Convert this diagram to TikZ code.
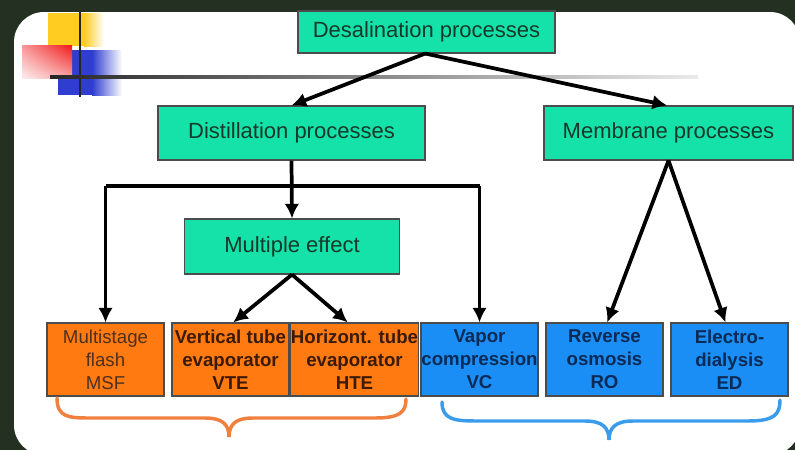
\documentclass[tikz,border=0pt]{standalone}
\usepackage{fontspec}
\setmainfont{Liberation Sans}
\usepackage{tikz}
\usetikzlibrary{arrows.meta}
\usetikzlibrary{calc}
\usetikzlibrary{shadings}
\definecolor{slidebg}{HTML}{243021}
\definecolor{procgreen}{HTML}{14E2A8}
\definecolor{procink}{HTML}{17382A}
\definecolor{procorange}{HTML}{FF7A10}
\definecolor{orangeink}{HTML}{3A1A08}
\definecolor{msfink}{HTML}{4E3020}
\definecolor{procblue}{HTML}{1A8EF5}
\definecolor{blueink}{HTML}{0B2A55}
\definecolor{braceorange}{HTML}{F08040}
\definecolor{braceblue}{HTML}{3A9CEB}
\definecolor{ornyellow}{HTML}{FFCC22}
\definecolor{ornred}{HTML}{F01818}
\definecolor{ornblue}{HTML}{2F3ED0}
\newcommand{\pxu}{0.75pt}
\tikzstyle{line} = [draw, -{Latex[length=11pt,width=11pt]}, line width=2.8pt]
\tikzstyle{brace} = [draw, line width=2.6pt, line cap=round]

\begin{document}
\begin{tikzpicture}[x=0.75pt, y=-0.75pt,
		box/.style={draw=black!70, line width=0.8pt, inner sep=0pt, align=center},
		procbox/.style={box, fill=procgreen, text=procink,
			font=\fontsize{16.5}{20}\selectfont, minimum height=54*\pxu},
		leafbox/.style={box, minimum width=117*\pxu, minimum height=73*\pxu,
			font=\fontsize{14}{17.25}\selectfont\bfseries}]
		\useasboundingbox (0,0) rectangle (795,450);
		%% slide
		\fill[slidebg] (0,0) rectangle (795,450);
		\fill[white, rounded corners=22.5pt] (14,12) rectangle (800,455);
		%% corner ornament
		\fill[ornyellow] (48,13) rectangle (84,46);
		\shade[left color=ornyellow, right color=white] (84,13) rectangle (104,46);
		\fill[ornblue] (58,50) rectangle (92,95);
		\shade[left color=ornblue, right color=white] (92,50) rectangle (122,95);
		\shade[upper right=ornred, upper left=ornred!45, lower right=ornred!40, lower left=ornred!8]
			(22,45) rectangle (72,78);
		\draw[line width=2pt, black!85] (80,12) -- (80,97);
		\shade[left color=black!85, middle color=black!65, right color=black!8]
			(50,75.6) rectangle (698,78.8);
		%% Processes
		\node [procbox, minimum width=257*\pxu, minimum height=42*\pxu] (desal) at (426.5,32) {Desalination processes};
		\node [procbox, minimum width=267*\pxu] (dist) at (291.5,133) {Distillation processes};
		\node [procbox, minimum width=249*\pxu] (memb) at (668.5,133) {Membrane processes};
		\node [procbox, minimum width=215*\pxu, minimum height=55*\pxu] (multi) at (292,246.5) {Multiple effect};
		%% Distillation family
		\node [leafbox, fill=procorange, text=msfink, font=\fontsize{14}{17.25}\selectfont] (msf) at (105.5,359.5) {Multistage\\flash\\MSF};
		\node [leafbox, fill=procorange, text=orangeink] (vte) at (230.5,359.5) {Vertical tube\\evaporator\\VTE};
		\node [leafbox, fill=procorange, text=orangeink] (hte) at (354.5,359.5) {Horizont. tube\\evaporator\\HTE};
		\node [leafbox, fill=procblue, text=blueink] (vc) at (479.5,359.5) {Vapor\\compression\\VC};
		%% Membrane family
		\node [leafbox, fill=procblue, text=blueink] (ro) at (604.5,359.5) {Reverse\\osmosis\\RO};
		\node [leafbox, fill=procblue, text=blueink] (ed) at (729.5,359.5) {Electro-\\dialysis\\ED};
		%% Arrows
		\path [line] ([xshift=-1pt]desal.south) -- (dist.north);
		\path [line] ([xshift=-1pt]desal.south) -- ([xshift=-1pt]memb.north);
		\coordinate (split) at (291.5,186);
		\draw [line width=2.8pt] (msf.north |- split) -- (vc.north |- split);
		\path [line] (dist.south) -- (multi.north);
		\path [line] (msf.north |- split) -- (msf.north);
		\path [line] (vc.north |- split) -- (vc.north);
		\path [line] (multi.south) -- ([xshift=2pt]vte.north);
		\path [line] (multi.south) -- ([xshift=-5pt]hte.north);
		\path [line] (memb.south) -- ([xshift=2pt]ro.north);
		\path [line] (memb.south) -- ([xshift=-3pt]ed.north);
		%% Braces
		\coordinate (otip) at (229,437);
		\coordinate (btip) at (609,440);
		\path [brace, braceorange] (57,398) .. controls (57,417) and (68,418) .. (90,418) -- (205,418)
			.. controls (222,418) and (229,424) .. (otip)
			.. controls (229,424) and (236,418) .. (253,418) -- (375,418)
			.. controls (400,418) and (406,412) .. (406,399);
		\path [brace, braceblue] (442,402) .. controls (442,420) and (455,421) .. (478,421) -- (585,421)
			.. controls (603,421) and (609,428) .. (btip)
			.. controls (609,428) and (615,421) .. (633,421) -- (748,421)
			.. controls (775,421) and (780,414) .. (780,400);
	\end{tikzpicture}
\end{document}
